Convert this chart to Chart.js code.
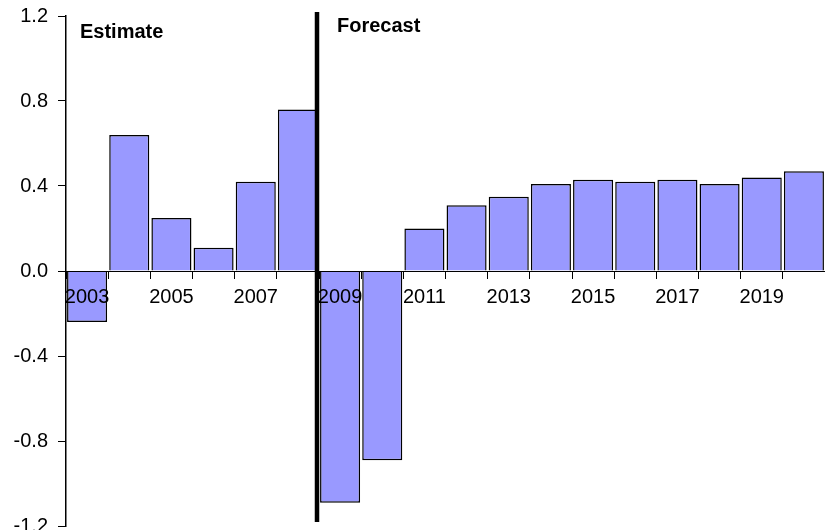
<!DOCTYPE html>
<html>
<head>
<meta charset="utf-8">
<script src="https://cdn.jsdelivr.net/npm/chart.js@4.4.0/dist/chart.umd.min.js"></script>
<style>
  html, body { margin: 0; padding: 0; background: #fff; }
  #wrap { width: 825px; height: 530px; }
</style>
</head>
<body>
<div id="wrap"><canvas id="chart"></canvas></div>
<script>
// --- chart data ---
const years = ['2003', '2004', '2005', '2006', '2007', '2008', '2009', '2010', '2011',
               '2012', '2013', '2014', '2015', '2016', '2017', '2018', '2019', '2020'];
const values = [-0.24, 0.64, 0.25, 0.11, 0.42, 0.76, -1.09, -0.89, 0.20,
                0.31, 0.35, 0.41, 0.43, 0.42, 0.43, 0.41, 0.44, 0.47];
const yTicks = [-1.2, -0.8, -0.4, 0.0, 0.4, 0.8, 1.2];
const lastEstimateYear = '2008';
const leftLabel = 'Estimate';
const rightLabel = 'Forecast';

// --- divider line + section labels ---
const dividerPlugin = {
    id: 'divider',
    afterDatasetsDraw(chart) {
        const { ctx, chartArea, scales } = chart;
        const i = years.indexOf(lastEstimateYear);
        const xPos = (scales.x.getPixelForValue(i) + scales.x.getPixelForValue(i + 1)) / 2 - 2;
        ctx.save();
        ctx.strokeStyle = '#000';
        ctx.lineWidth = 4.5;
        ctx.beginPath();
        ctx.moveTo(xPos, chartArea.top - 4);
        ctx.lineTo(xPos, chartArea.bottom - 4);
        ctx.stroke();

        ctx.fillStyle = '#000';
        ctx.font = 'bold 20px "Liberation Sans", Arial, sans-serif';
        ctx.textBaseline = 'alphabetic';
        ctx.textAlign = 'left';
        ctx.fillText(leftLabel, chartArea.left + 14, 38);
        ctx.fillText(rightLabel, xPos + 20, 32);
        ctx.restore();
    }
};

const ctx = document.getElementById('chart').getContext('2d');
new Chart(ctx, {
    type: 'bar',
    data: {
        labels: years,
        datasets: [{
            data: values,
            backgroundColor: '#9999FF',
            borderColor: '#000',
            borderWidth: 1.5,
            categoryPercentage: 1.0,
            barPercentage: 0.95
        }]
    },
    options: {
        responsive: true,
        maintainAspectRatio: false,
        animation: false,
        layout: { padding: { top: 16, right: 0, bottom: 4, left: 0 } },
        plugins: { legend: { display: false }, tooltip: { enabled: false } },
        scales: {
            x: {
                position: { y: 0 },
                offset: true,
                grid: { offset: true, drawOnChartArea: false, tickLength: 7, color: '#000', lineWidth: 1, z: 1 },
                border: { display: true, color: '#000', width: 1, z: 1 },
                ticks: {
                    z: 1,
                    autoSkip: false,
                    maxRotation: 0,
                    padding: 7,
                    color: '#000',
                    font: { family: '"Liberation Sans", Arial, sans-serif', size: 20 },
                    callback: function(v, i) { return i % 2 === 0 ? years[i] : ''; }
                }
            },
            y: {
                min: yTicks[0],
                max: yTicks[yTicks.length - 1],
                afterBuildTicks: function(scale) { scale.ticks = yTicks.map(v => ({ value: v })); },
                afterFit: function(scale) {
                    scale.width = 66;
                    scale.paddingTop = 0;
                    scale.paddingBottom = 0;
                },
                grid: { drawOnChartArea: false, tickLength: 8, color: '#000', lineWidth: 1 },
                border: { display: true, color: '#000', width: 1.5 },
                ticks: {
                    padding: 10,
                    color: '#000',
                    font: { family: '"Liberation Sans", Arial, sans-serif', size: 20 },
                    callback: v => v.toFixed(1)
                }
            }
        }
    },
    plugins: [dividerPlugin]
});
</script>
</body>
</html>
